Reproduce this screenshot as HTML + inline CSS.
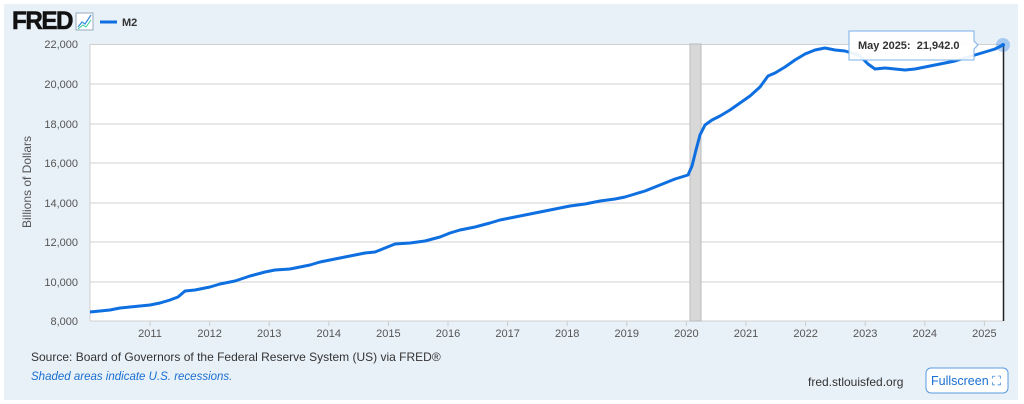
<!DOCTYPE html><html><head><style>
body{margin:0;background:#fff;font-family:"Liberation Sans",sans-serif;}
#p{position:absolute;left:4px;top:4px;width:1014px;height:396px;background:#e8f0f8;}
</style></head><body><div id="p"></div>
<svg width="1024" height="404" style="position:absolute;left:0;top:0" font-family="Liberation Sans, sans-serif">
<text x="12" y="29" font-size="25" font-weight="bold" fill="#111" stroke="#111" stroke-width="0.6" letter-spacing="-1.5" textLength="60" lengthAdjust="spacingAndGlyphs">FRED</text>
<rect x="76" y="13" width="17" height="17" fill="#fff" stroke="#9ab" stroke-width="1"/>
<polyline points="78,27 82,22 85,24 91,15" fill="none" stroke="#3a8fe0" stroke-width="1.3"/>
<polyline points="78,29 83,25 86,27 91,20" fill="none" stroke="#3c9" stroke-width="1"/>
<line x1="100" y1="22" x2="117" y2="22" stroke="#0e6fe0" stroke-width="3"/>
<text x="122" y="26" font-size="11" font-weight="bold" fill="#333">M2</text>
<rect x="90" y="44" width="913" height="277" fill="#fff"/>
<g stroke="#d0d0d0" stroke-width="1">
<line x1="90" y1="44.5" x2="1003" y2="44.5"/><line x1="90" y1="84" x2="1003" y2="84"/><line x1="90" y1="124" x2="1003" y2="124"/><line x1="90" y1="163" x2="1003" y2="163"/><line x1="90" y1="203" x2="1003" y2="203"/><line x1="90" y1="242" x2="1003" y2="242"/><line x1="90" y1="282" x2="1003" y2="282"/><line x1="90" y1="321" x2="1003" y2="321"/>
<line x1="90" y1="44" x2="90" y2="321"/>
</g>
<g font-size="11" fill="#555" text-anchor="end">
<text x="78" y="48">22,000</text><text x="78" y="88">20,000</text><text x="78" y="128">18,000</text><text x="78" y="167">16,000</text><text x="78" y="207">14,000</text><text x="78" y="246">12,000</text><text x="78" y="286">10,000</text><text x="78" y="325">8,000</text>
</g>
<text transform="translate(31,182) rotate(-90)" font-size="12" fill="#555" text-anchor="middle">Billions of Dollars</text>
<rect x="690" y="44" width="11" height="277" fill="#d8d8d8" stroke="#bbb" stroke-width="1"/>
<g font-size="11" fill="#555" text-anchor="middle" id="xt"></g>
<polyline fill="none" stroke="#0e6fe0" stroke-width="3" stroke-linejoin="round" points="90,312 100,311 110,310 120,308 130,307 140,306 150,305 160,303 170,300 178,297 185,291 195,290 210,287 220,284 235,281 250,276 265,272 275,270 290,269 300,267 310,265 320,262 330,260 340,258 350,256 365,253 375,252 385,248 395,244 410,243 425,241 440,237 450,233 460,230 475,227 490,223 500,220 510,218 525,215 540,212 555,209 570,206 585,204 600,201 615,199 625,197 635,194 645,191 655,187 665,183 675,179 688,175 692,166 696,150 700,135 705,125 712,120 720,116 730,110 740,103 750,96 760,87 768,76 775,73 785,67 795,60 805,54 815,50 825,48 835,50 845,51 855,54 860,56 868,64 875,69 885,68 895,69 905,70 915,69 925,67 935,65 945,63 955,61 965,58 975,55 985,52 995,49 1003,45"/>
<line x1="1003.5" y1="45" x2="1003.5" y2="321" stroke="#222" stroke-width="1.5"/>
<circle cx="1003" cy="45" r="7" fill="#0e6fe0" fill-opacity="0.3"/><circle cx="1003" cy="45" r="2" fill="#0e6fe0"/>
<path d="M849,31 H974 V41 L978,45 L974,49 V60 H849 Z" fill="#fff" fill-opacity="0.92" stroke="#7ab0e8"/>
<text x="858" y="49" font-size="11" font-weight="bold" fill="#333" xml:space="preserve">May 2025:  21,942.0</text>
<text x="31" y="361" font-size="12" fill="#333">Source: Board of Governors of the Federal Reserve System (US) via FRED®</text>
<text x="31" y="380" font-size="11.5" font-style="italic" fill="#1a6fd0">Shaded areas indicate U.S. recessions.</text>
<text x="808" y="386" font-size="12" fill="#333">fred.stlouisfed.org</text>
<rect x="926" y="368" width="82" height="25" rx="5" fill="#fff" stroke="#5a9be0"/>
<text x="931" y="385" font-size="12.5" fill="#1a6fd0">Fullscreen ⛶</text>
</svg>
<script>
var g=document.getElementById('xt'),s='';
for(var y=2011;y<=2025;y++){var x=150+(y-2011)*59.6;s+='<line x1="'+x+'" y1="321" x2="'+x+'" y2="326" stroke="#ccc"/><text x="'+x+'" y="337">'+y+'</text>';}
g.innerHTML=s;
</script>
</body></html>
